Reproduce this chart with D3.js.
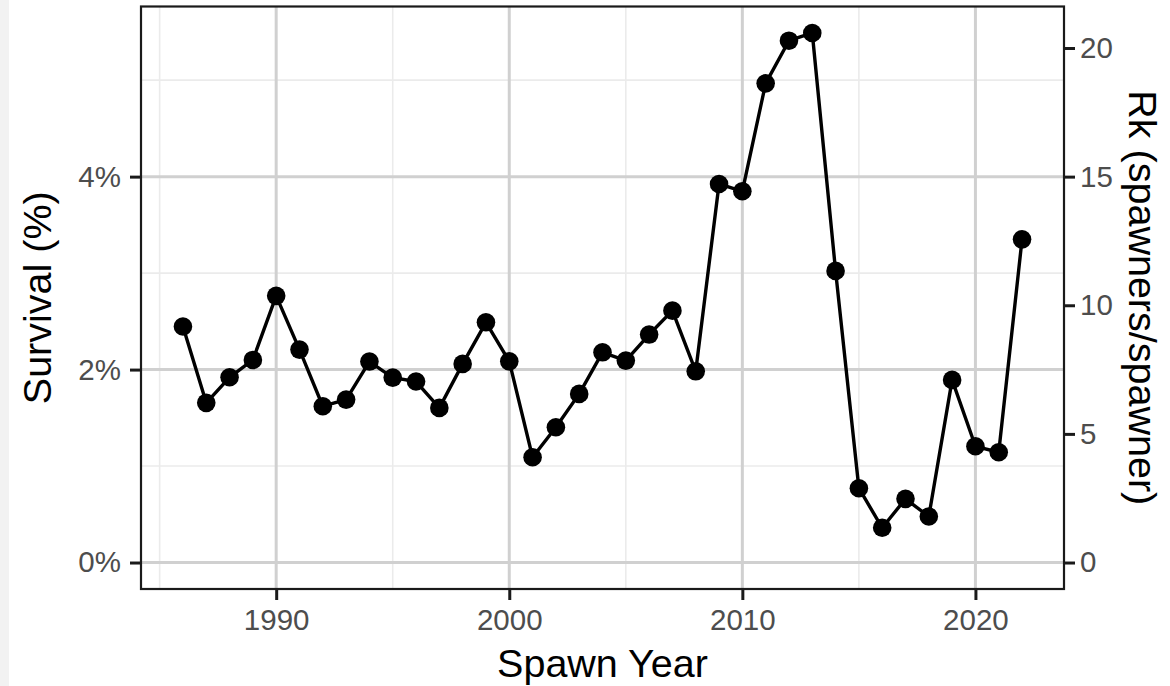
<!DOCTYPE html>
<html>
<head>
<meta charset="utf-8">
<script src="https://cdn.jsdelivr.net/npm/d3@7"></script>
<style>
  html, body { margin: 0; padding: 0; background: #ffffff; }
  svg { display: block; }
  text { font-family: "Liberation Sans", Arial, Helvetica, sans-serif; }
</style>
</head>
<body>
<div id="chart"></div>
<script>
// Spawn years and smolt-to-adult survival (%) per brood year
const years = [1986, 1987, 1988, 1989, 1990, 1991, 1992, 1993, 1994, 1995,
               1996, 1997, 1998, 1999, 2000, 2001, 2002, 2003, 2004, 2005,
               2006, 2007, 2008, 2009, 2010, 2011, 2012, 2013, 2014, 2015,
               2016, 2017, 2018, 2019, 2020, 2021, 2022];
const survival = [2.446, 1.655, 1.920, 2.100, 2.764, 2.207, 1.620, 1.689, 2.083, 1.917,
                  1.876, 1.603, 2.059, 2.490, 2.085, 1.091, 1.402, 1.748, 2.179, 2.093,
                  2.363, 2.611, 1.982, 3.924, 3.848, 4.967, 5.409, 5.489, 3.023, 0.770,
                  0.360, 0.660, 0.477, 1.893, 1.205, 1.143, 3.350];

// Axis breaks
const xMajor = [1990, 2000, 2010, 2020];
const xMinor = [1985, 1995, 2005, 2015];
const yMajor = [0, 2, 4];
const yMinor = [1, 3, 5];
const rkTicks = [0, 5, 10, 15, 20];
// Recruits per spawner scale relative to survival (%)
const rkPerPercent = 3.75;

const W = 1170, H = 686;
const panel = { left: 141, right: 1064, top: 6.5, bottom: 589 };

const svg = d3.select("#chart").append("svg")
  .attr("width", W).attr("height", H);

svg.append("rect").attr("x", 0).attr("y", 0).attr("width", W).attr("height", H).attr("fill", "#ffffff");
svg.append("rect").attr("x", 0).attr("y", 0).attr("width", 9).attr("height", H).attr("fill", "#f2f2f2");

// ggplot-style 5% expansion around the data limits
const xExt = d3.extent(years);
const xPad = (xExt[1] - xExt[0]) * 0.05;
const yMax = d3.max(survival);
const yPad = yMax * 0.05;

const x = d3.scaleLinear().domain([xExt[0] - xPad, xExt[1] + xPad]).range([panel.left, panel.right]);
const y = d3.scaleLinear().domain([0 - yPad, yMax + yPad]).range([panel.bottom, panel.top]);
const yRk = d3.scaleLinear().domain(y.domain().map(v => v * rkPerPercent)).range(y.range());

const grid = svg.append("g");
// minor grid
grid.selectAll(".xminor").data(xMinor).join("line")
  .attr("x1", d => x(d)).attr("x2", d => x(d))
  .attr("y1", panel.top).attr("y2", panel.bottom)
  .attr("stroke", "#ebebeb").attr("stroke-width", 1.6);
grid.selectAll(".yminor").data(yMinor).join("line")
  .attr("y1", d => y(d)).attr("y2", d => y(d))
  .attr("x1", panel.left).attr("x2", panel.right)
  .attr("stroke", "#ebebeb").attr("stroke-width", 1.6);
// major grid
grid.selectAll(".xmajor").data(xMajor).join("line")
  .attr("x1", d => x(d)).attr("x2", d => x(d))
  .attr("y1", panel.top).attr("y2", panel.bottom)
  .attr("stroke", "#d0d0d0").attr("stroke-width", 3);
grid.selectAll(".ymajor").data(yMajor).join("line")
  .attr("y1", d => y(d)).attr("y2", d => y(d))
  .attr("x1", panel.left).attr("x2", panel.right)
  .attr("stroke", "#d0d0d0").attr("stroke-width", 3);

// series
const pts = years.map((yr, i) => ({ yr, v: survival[i] }));
const line = d3.line().x(d => x(d.yr)).y(d => y(d.v));
svg.append("path").datum(pts)
  .attr("d", line).attr("fill", "none")
  .attr("stroke", "#000").attr("stroke-width", 3.4).attr("stroke-linejoin", "round");
svg.append("g").selectAll("circle").data(pts).join("circle")
  .attr("cx", d => x(d.yr)).attr("cy", d => y(d.v)).attr("r", 9.3).attr("fill", "#000");

// panel border
svg.append("rect")
  .attr("x", panel.left).attr("y", panel.top)
  .attr("width", panel.right - panel.left).attr("height", panel.bottom - panel.top)
  .attr("fill", "none").attr("stroke", "#1a1a1a").attr("stroke-width", 2.2);

// axes
function styleAxis(g) {
  g.select(".domain").remove();
  g.selectAll(".tick line").attr("stroke", "#1a1a1a").attr("stroke-width", 3);
  g.selectAll(".tick text").attr("fill", "#4d4d4d").style("font-size", "29.5px")
    .style("font-family", "'Liberation Sans', Arial, sans-serif");
}
svg.append("g").attr("transform", `translate(0,${panel.bottom})`)
  .call(d3.axisBottom(x).tickValues(xMajor).tickFormat(d3.format("d")).tickSizeInner(11).tickSizeOuter(0).tickPadding(9))
  .call(styleAxis);
svg.append("g").attr("transform", `translate(${panel.left},0)`)
  .call(d3.axisLeft(y).tickValues(yMajor).tickFormat(d => d + "%").tickSizeInner(11).tickSizeOuter(0).tickPadding(9))
  .call(styleAxis);
svg.append("g").attr("transform", `translate(${panel.right},0)`)
  .call(d3.axisRight(yRk).tickValues(rkTicks).tickFormat(d3.format("d")).tickSizeInner(11).tickSizeOuter(0).tickPadding(5))
  .call(styleAxis);

// titles
svg.append("text").attr("x", (panel.left + panel.right) / 2).attr("y", 677)
  .attr("text-anchor", "middle").attr("fill", "#000").style("font-size", "39.5px").text("Spawn Year");
svg.append("text").attr("transform", `translate(51,${(panel.top + panel.bottom) / 2}) rotate(-90)`)
  .attr("text-anchor", "middle").attr("fill", "#000").style("font-size", "39.5px").text("Survival (%)");
svg.append("text").attr("transform", `translate(1129,${(panel.top + panel.bottom) / 2}) rotate(90)`)
  .attr("text-anchor", "middle").attr("fill", "#000").style("font-size", "39.5px").text("Rk (spawners/spawner)");
</script>
</body>
</html>
